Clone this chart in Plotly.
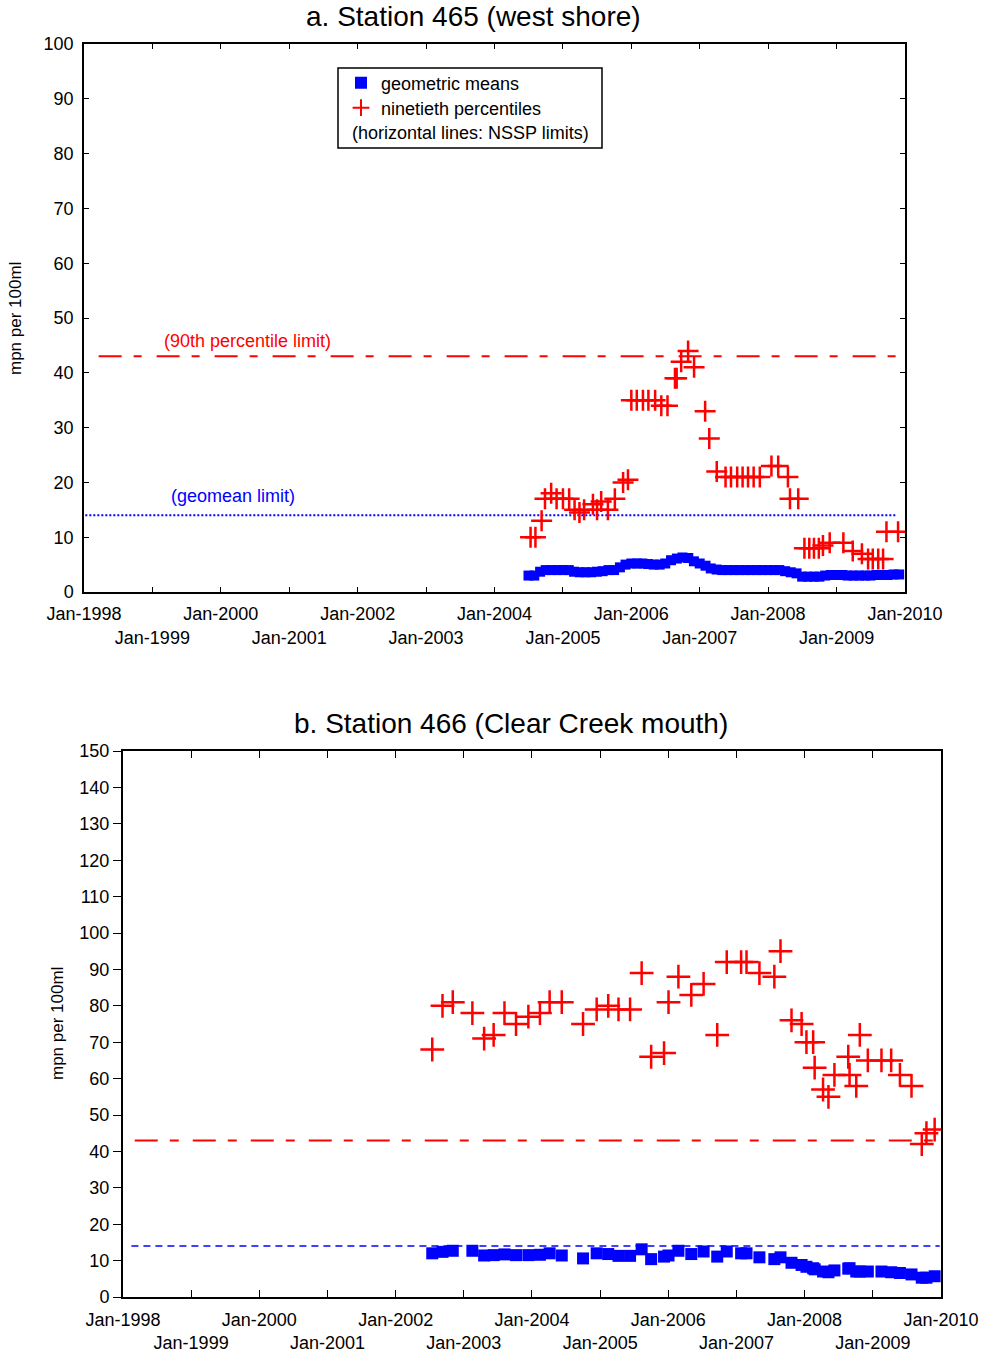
import plotly.graph_objects as go

W, H = 985, 1357

# ---------------- data ----------------
x_tick_dates = ["1998-01-01", "1999-01-01", "2000-01-01", "2001-01-01", "2002-01-01",
                "2003-01-01", "2004-01-01", "2005-01-01", "2006-01-01", "2007-01-01",
                "2008-01-01", "2009-01-01", "2010-01-01"]
x_tick_labels = ["Jan-1998", "Jan-1999", "Jan-2000", "Jan-2001", "Jan-2002", "Jan-2003",
                 "Jan-2004", "Jan-2005", "Jan-2006", "Jan-2007", "Jan-2008", "Jan-2009",
                 "Jan-2010"]

nssp_geomean_limit = 14
nssp_p90_limit = 43

# Station 465 - geometric means (monthly)
a_gm_dates = ["2004-07-01", "2004-08-01", "2004-09-01", "2004-10-01", "2004-11-01", "2004-12-01",
              "2005-01-01", "2005-02-01", "2005-03-01", "2005-04-01", "2005-05-01", "2005-06-01",
              "2005-07-01", "2005-08-01", "2005-09-01", "2005-10-01", "2005-11-01", "2005-12-01",
              "2006-01-01", "2006-02-01", "2006-03-01", "2006-04-01", "2006-05-01", "2006-06-01",
              "2006-07-01", "2006-08-01", "2006-09-01", "2006-10-01", "2006-11-01", "2006-12-01",
              "2007-01-01", "2007-02-01", "2007-03-01", "2007-04-01", "2007-05-01", "2007-06-01",
              "2007-07-01", "2007-08-01", "2007-09-01", "2007-10-01", "2007-11-01", "2007-12-01",
              "2008-01-01", "2008-02-01", "2008-03-01", "2008-04-01", "2008-05-01", "2008-06-01",
              "2008-07-01", "2008-08-01", "2008-09-01", "2008-10-01", "2008-11-01", "2008-12-01",
              "2009-01-01", "2009-02-01", "2009-03-01", "2009-04-01", "2009-05-01", "2009-06-01",
              "2009-07-01", "2009-08-01", "2009-09-01", "2009-10-01", "2009-11-01", "2009-12-01"]
a_gm_values = [3.0, 3.0, 3.7, 4.0, 4.0, 4.0,
               4.0, 4.0, 3.7, 3.6, 3.6, 3.6, 3.7, 3.8, 4.0, 4.0, 4.5, 5.0,
               5.2, 5.2, 5.2, 5.1, 5.0, 5.0, 5.2, 5.8, 6.1, 6.3, 6.2, 5.6,
               5.2, 4.8, 4.3, 4.1, 4.0, 4.0, 4.0, 4.0, 4.0, 4.0, 4.0, 4.0,
               4.0, 4.0, 4.0, 3.8, 3.6, 3.4, 2.8, 2.8, 2.8, 2.8, 3.0, 3.1,
               3.1, 3.1, 3.0, 3.0, 3.0, 3.0, 3.0, 3.1, 3.1, 3.1, 3.2, 3.2]

# Station 465 - ninetieth percentiles
a_p90_dates = ["2004-07-12", "2004-08-07", "2004-09-09", "2004-09-27", "2004-10-30", "2004-11-28",
               "2005-01-01", "2005-02-03", "2005-03-04", "2005-03-30", "2005-04-24", "2005-06-10",
               "2005-07-02", "2005-07-24", "2005-08-29", "2005-10-05", "2005-11-18", "2005-12-14",
               "2006-01-01", "2006-01-30", "2006-03-04", "2006-04-02", "2006-05-08", "2006-06-10",
               "2006-07-13", "2006-08-22", "2006-08-31", "2006-09-24", "2006-10-31", "2006-12-02",
               "2007-01-30", "2007-02-21", "2007-04-02", "2007-05-19", "2007-06-17", "2007-07-20",
               "2007-08-18", "2007-09-16", "2007-10-16", "2007-11-18", "2008-01-19", "2008-02-24",
               "2008-04-16", "2008-04-27", "2008-06-10", "2008-07-13", "2008-08-08", "2008-09-02",
               "2008-09-28", "2008-10-20", "2008-11-25", "2009-02-06", "2009-03-28", "2009-05-16",
               "2009-06-18", "2009-07-13", "2009-08-11", "2009-09-06", "2009-09-24", "2009-11-25"]
a_p90_values = [10, 10, 13, 17, 18, 17,
                17, 17, 15, 14.5, 15, 16,
                15, 16.5, 15, 17, 20, 20.5,
                35, 35, 35, 35, 35, 34,
                34, 39, 39, 42, 44, 41,
                33, 28, 22, 21, 21, 21,
                21, 21, 21, 21, 23, 23,
                21, 17, 17, 8, 8, 8,
                8, 8.5, 9, 9, 7.5, 7,
                6, 6, 6, 6, 11, 11]

# Station 466 - sampling dates, geometric means, ninetieth percentiles
b_dates = ["2002-07-16", "2002-09-09", "2002-11-03", "2003-02-16", "2003-04-20", "2003-06-10",
           "2003-08-07", "2003-10-08", "2003-12-13", "2004-02-13", "2004-04-05", "2004-06-09",
           "2004-10-01", "2004-12-13", "2005-02-13", "2005-04-09", "2005-06-10", "2005-08-11",
           "2005-10-01", "2005-12-09", "2006-01-02", "2006-02-24", "2006-05-04", "2006-07-09",
           "2006-09-20", "2006-11-10", "2007-01-26", "2007-02-24", "2007-05-04", "2007-07-23",
           "2007-08-25", "2007-10-23", "2007-12-16", "2008-01-11", "2008-02-16", "2008-02-24",
           "2008-04-09", "2008-05-08", "2008-06-09", "2008-08-22", "2008-08-29", "2008-10-04",
           "2008-10-23", "2008-12-05", "2009-02-16", "2009-04-09", "2009-05-26", "2009-07-27",
           "2009-09-20", "2009-10-15", "2009-11-28"]
b_gm_values = [12.0, 12.4, 12.7, 12.7, 11.4, 11.5,
               11.7, 11.5, 11.5, 11.6, 12.0, 11.4,
               10.6, 12.0, 11.8, 11.3, 11.3, 13.1,
               10.4, 11.1, 11.4, 12.7, 11.8, 12.5,
               11.1, 12.5, 12.0, 12.0, 10.9, 10.4,
               10.9, 9.4, 8.8, 8.3, 7.9, 7.6,
               7.0, 6.8, 7.3, 7.8, 7.9, 7.0,
               7.0, 7.0, 7.0, 6.8, 6.6, 6.2,
               5.3, 5.3, 5.7]
b_p90_values = [68, 80, 81, 78, 71, 72,
                78, 75, 77, 78, 81, 81,
                75, 79, 80, 79, 79, 89,
                66, 67, 81, 88, 83, 86,
                72, 92, 92, 92, 89, 88,
                95, 76, 75, 70, 70, 63,
                57, 55, 61, 66, 61, 58,
                72, 65, 65, 65, 61, 58,
                42, 45, 46]

# extents of the NSSP limit lines
a_p90_line_x = ["1998-03-20", "2010-01-01"]
a_gm_line_x = ["1998-01-08", "2009-11-20"]
b_p90_line_x = ["1998-03-05", "2009-11-25"]
b_gm_line_x = ["1998-02-15", "2009-12-25"]

# ---------------- figure ----------------
RED = "#FF0000"
BLUE = "#0000FF"
FONT = "Liberation Sans, Arial, sans-serif"


def px_x(p):
    return p / W


def px_y(p):
    return 1 - p / H


fig = go.Figure()

# Panel a
fig.add_trace(go.Scatter(x=a_gm_line_x, y=[nssp_geomean_limit] * 2, mode="lines",
                         line=dict(color=BLUE, width=2, dash="2px,2px"),
                         showlegend=False, xaxis="x", yaxis="y", hoverinfo="skip"))
fig.add_trace(go.Scatter(x=a_p90_line_x, y=[nssp_p90_limit] * 2, mode="lines",
                         line=dict(color=RED, width=2, dash="23px,12px,8px,15px"),
                         showlegend=False, xaxis="x", yaxis="y", hoverinfo="skip"))
fig.add_trace(go.Scatter(x=a_gm_dates, y=a_gm_values, mode="markers", name="geometric means",
                         marker=dict(symbol="square", size=10, color=BLUE,
                                     line=dict(width=0)),
                         xaxis="x", yaxis="y", legend="legend"))
fig.add_trace(go.Scatter(x=a_p90_dates, y=a_p90_values, mode="markers",
                         name="ninetieth percentiles",
                         marker=dict(symbol="cross-thin", size=15, color=RED,
                                     line=dict(color=RED, width=2.5)),
                         xaxis="x", yaxis="y", legend="legend2"))

# Panel b
fig.add_trace(go.Scatter(x=b_gm_line_x, y=[nssp_geomean_limit] * 2, mode="lines",
                         line=dict(color=BLUE, width=1.5, dash="7px,5px"),
                         showlegend=False, xaxis="x2", yaxis="y2", hoverinfo="skip"))
fig.add_trace(go.Scatter(x=b_p90_line_x, y=[nssp_p90_limit] * 2, mode="lines",
                         line=dict(color=RED, width=2, dash="23px,12px,9px,14px"),
                         showlegend=False, xaxis="x2", yaxis="y2", hoverinfo="skip"))
fig.add_trace(go.Scatter(x=b_dates, y=b_gm_values, mode="markers", showlegend=False,
                         marker=dict(symbol="square", size=12, color=BLUE,
                                     line=dict(width=0)),
                         xaxis="x2", yaxis="y2"))
fig.add_trace(go.Scatter(x=b_dates, y=b_p90_values, mode="markers", showlegend=False,
                         marker=dict(symbol="cross-thin", size=17, color=RED,
                                     line=dict(color=RED, width=2.5)),
                         xaxis="x2", yaxis="y2"))

tick_text = [lab if i % 2 == 0 else "<br>" + lab for i, lab in enumerate(x_tick_labels)]

common_x = dict(range=[x_tick_dates[0], x_tick_dates[-1]], tickmode="array",
                tickvals=x_tick_dates, ticktext=tick_text, showgrid=False, zeroline=False,
                showline=True, linecolor="black", ticks="inside", tickcolor="black",
                mirror="allticks", tickfont=dict(family=FONT, size=18, color="black"),
                ticklabelstandoff=5, tickangle=0, automargin=False)

legend_common = dict(xanchor="left", yanchor="middle", bgcolor="rgba(0,0,0,0)",
                     borderwidth=0, itemsizing="constant",
                     font=dict(family=FONT, size=18, color="black"))

layout = dict(
    width=W, height=H, margin=dict(l=0, r=0, t=0, b=0, autoexpand=False),
    paper_bgcolor="white", plot_bgcolor="white",
    showlegend=True,
    xaxis=dict(domain=[px_x(84), px_x(905)], anchor="y", linewidth=1.5, ticklen=5,
               **common_x),
    yaxis=dict(domain=[px_y(592), px_y(44)], anchor="x", range=[0, 100], dtick=10,
               tick0=0, showgrid=False, zeroline=False, showline=True, linecolor="black",
               linewidth=1.5, ticks="inside", ticklen=5, tickcolor="black",
               mirror="allticks", ticklabelstandoff=5, automargin=False,
               tickfont=dict(family=FONT, size=18, color="black")),
    xaxis2=dict(domain=[px_x(123), px_x(941)], anchor="y2", linewidth=2, ticklen=7,
                **common_x),
    yaxis2=dict(domain=[px_y(1297), px_y(751)], anchor="x2", range=[0, 150], dtick=10,
                tick0=0, showgrid=False, zeroline=False, showline=True, linecolor="black",
                linewidth=2, ticks="outside", ticklen=8, tickcolor="black", mirror=True,
                ticklabelstandoff=0, automargin=False,
                tickfont=dict(family=FONT, size=18, color="black")),
    yaxis3=dict(domain=[px_y(1297), px_y(751)], anchor="x2", overlaying="y2", side="right",
                range=[0, 150], dtick=10, tick0=0, showgrid=False, zeroline=False,
                showline=False, ticks="inside", ticklen=5, tickcolor="black",
                showticklabels=False, automargin=False),
    legend=dict(x=px_x(341), y=px_y(83), **legend_common),
    legend2=dict(x=px_x(341), y=px_y(108), **legend_common),
    shapes=[dict(type="rect", xref="paper", yref="paper", x0=px_x(338), x1=px_x(602),
                 y0=px_y(148), y1=px_y(68), line=dict(color="black", width=1.5),
                 fillcolor="rgba(0,0,0,0)", layer="above")],
    annotations=[
        dict(text="a. Station 465 (west shore)", x=px_x(473), y=px_y(16), xref="paper",
             yref="paper", showarrow=False, xanchor="center", yanchor="middle",
             font=dict(family=FONT, size=28, color="black")),
        dict(text="b. Station 466 (Clear Creek mouth)", x=px_x(511), y=px_y(723),
             xref="paper", yref="paper", showarrow=False, xanchor="center",
             yanchor="middle", font=dict(family=FONT, size=28, color="black")),
        dict(text="mpn per 100ml", x=px_x(16), y=px_y(319), xref="paper", yref="paper",
             showarrow=False, textangle=-90, xanchor="center", yanchor="middle",
             font=dict(family=FONT, size=17, color="black")),
        dict(text="mpn per 100ml", x=px_x(57), y=px_y(1024), xref="paper", yref="paper",
             showarrow=False, textangle=-90, xanchor="center", yanchor="middle",
             font=dict(family=FONT, size=17, color="black")),
        dict(text="(90th percentile limit)", x=px_x(247), y=px_y(341), xref="paper",
             yref="paper", showarrow=False, xanchor="center", yanchor="middle",
             font=dict(family=FONT, size=18, color=RED)),
        dict(text="(geomean limit)", x=px_x(233), y=px_y(496), xref="paper",
             yref="paper", showarrow=False, xanchor="center", yanchor="middle",
             font=dict(family=FONT, size=18, color=BLUE)),
        dict(text="(horizontal lines: NSSP limits)", x=px_x(470), y=px_y(133),
             xref="paper", yref="paper", showarrow=False, xanchor="center",
             yanchor="middle", font=dict(family=FONT, size=18, color="black")),
    ],
)
fig.update_layout(**layout)

# remove the page's default body margin so the figure sits at the window's corner
fig.write_html("out.html", config={"displayModeBar": False},
               post_script="document.body.style.margin='0';document.body.style.overflow='hidden';")
